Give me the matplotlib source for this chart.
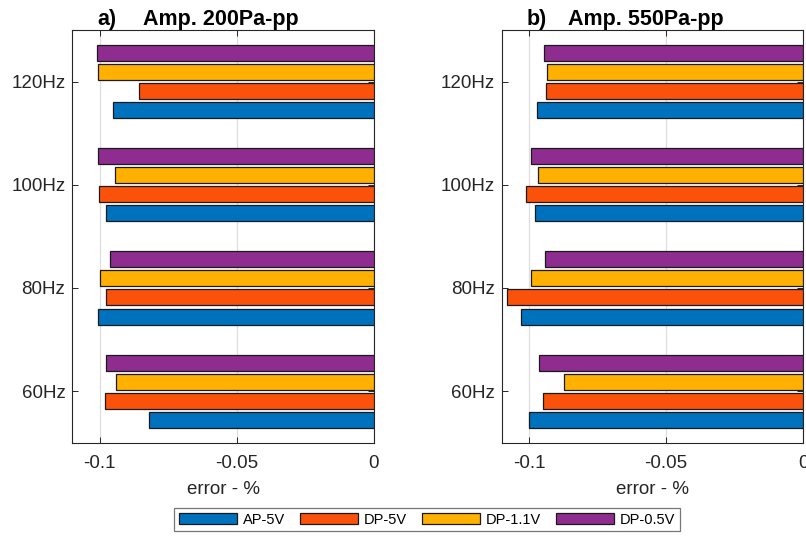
import matplotlib
matplotlib.use('Agg')
import matplotlib.pyplot as plt
import numpy as np

plt.rcParams['font.family'] = ['Liberation Sans', 'DejaVu Sans']

# categories and series (error in %)
freqs = ['60Hz', '80Hz', '100Hz', '120Hz']
series = ['AP-5V', 'DP-5V', 'DP-1.1V', 'DP-0.5V']
colors = ['#0072BD', '#FA520A', '#FFB000', '#8E2C8F']

err_200 = {
    'AP-5V':   [-0.0821, -0.1005, -0.0976, -0.0953],
    'DP-5V':   [-0.0981, -0.0976, -0.1001, -0.0857],
    'DP-1.1V': [-0.0942, -0.0999, -0.0943, -0.1005],
    'DP-0.5V': [-0.0978, -0.0964, -0.1006, -0.1010],
}
err_550 = {
    'AP-5V':   [-0.0999, -0.1030, -0.0978, -0.0970],
    'DP-5V':   [-0.0948, -0.1080, -0.1010, -0.0939],
    'DP-1.1V': [-0.0874, -0.0994, -0.0968, -0.0936],
    'DP-0.5V': [-0.0964, -0.0942, -0.0992, -0.0944],
}

W, H = 806, 537
fig = plt.figure(figsize=(W / 100., H / 100.), dpi=100)

def panel(left_px, data, tag, title, title_x):
    ax = fig.add_axes([left_px / W, (H - 442.7) / H, 301.5 / W, 412.7 / H])
    y = np.arange(1, len(freqs) + 1)
    offsets = [-0.277, -0.092, 0.092, 0.277]
    for s, off, c in zip(series, offsets, colors):
        ax.barh(y + off, data[s], height=0.155, color=c, edgecolor='#1a1a1a',
                linewidth=0.9, label=s, zorder=3)
    ax.set_xlim(-0.11, 0)
    ax.set_ylim(0.5, 4.5)
    ax.set_xticks([-0.1, -0.05, 0])
    ax.set_xticklabels(['-0.1', '-0.05', '0'])
    ax.set_yticks(y)
    ax.set_yticklabels(freqs)
    ax.grid(axis='x', color='#dedede', linewidth=0.9, zorder=0)
    ax.tick_params(direction='in', length=4, width=0.7, colors='#262626',
                   labelsize=13.5, top=True, right=True)
    ax.tick_params(axis='x', pad=9)
    ax.tick_params(axis='y', pad=5)
    for sp in ax.spines.values():
        sp.set_color('#262626')
        sp.set_linewidth(0.8)
    ax.set_xlabel('error - %', fontsize=13.5, color='#262626', labelpad=6)
    ax.text(0.083, 1.012, tag, transform=ax.transAxes, fontsize=15.5,
            fontweight='bold', va='baseline', ha='left')
    ax.text(title_x, 1.012, title, transform=ax.transAxes,
            fontsize=15.5, fontweight='bold', va='baseline', ha='left')
    return ax

ax1 = panel(72.3, err_200, 'a)', 'Amp. 200Pa-pp', 0.235)
ax2 = panel(501.7, err_550, 'b)', 'Amp. 550Pa-pp', 0.22)

h, l = ax1.get_legend_handles_labels()
leg = fig.legend(h, l, ncol=4, loc='center', bbox_to_anchor=(427 / W, 1 - 519.5 / H),
                 fontsize=10.5, frameon=True, fancybox=False, handlelength=4.0,
                 handleheight=0.85, columnspacing=1.0, handletextpad=0.4,
                 borderpad=0.3)
leg.get_frame().set_edgecolor('#555555')
leg.get_frame().set_linewidth(0.9)

fig.savefig('out.png', dpi=100)
